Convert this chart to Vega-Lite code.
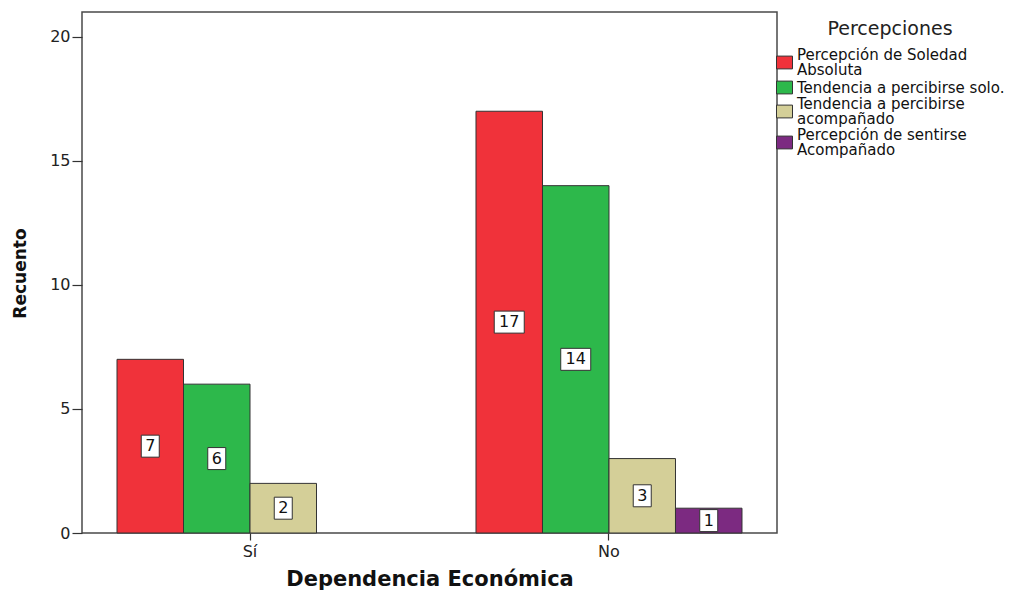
{
  "$schema": "https://vega.github.io/schema/vega-lite/v6.json",
  "autosize": {"type": "none"},
  "padding": {"left": 82, "top": 12, "right": 253, "bottom": 58},
  "width": 695,
  "height": 521,
  "background": "white",
  "data": {
    "values": [
      {"dep": "Sí", "per": "Percepción de Soledad Absoluta", "n": 7},
      {"dep": "Sí", "per": "Tendencia a percibirse solo.", "n": 6},
      {"dep": "Sí", "per": "Tendencia a percibirse acompañado", "n": 2},
      {"dep": "No", "per": "Percepción de Soledad Absoluta", "n": 17},
      {"dep": "No", "per": "Tendencia a percibirse solo.", "n": 14},
      {"dep": "No", "per": "Tendencia a percibirse acompañado", "n": 3},
      {"dep": "No", "per": "Percepción de sentirse Acompañado", "n": 1}
    ]
  },
  "transform": [{"calculate": "datum.n / 2", "as": "mid"}],
  "encoding": {
    "x": {
      "field": "dep",
      "type": "nominal",
      "sort": ["Sí", "No"],
      "title": "Dependencia Económica",
      "scale": {"paddingInner": 0.259, "paddingOuter": 0.0975},
      "axis": {
        "labelAngle": 0,
        "domain": false,
        "ticks": true,
        "tickSize": 7,
        "tickColor": "#333",
        "tickWidth": 1.2,
        "labelFont": "DejaVu Sans",
        "labelFontSize": 16,
        "labelColor": "#222",
        "labelPadding": 3,
        "titleFont": "DejaVu Sans",
        "titleFontSize": 21,
        "titleFontWeight": "bold",
        "titleColor": "#111",
        "titleBaseline": "alphabetic",
        "titleY": 52
      }
    },
    "xOffset": {
      "field": "per",
      "type": "nominal",
      "scale": {
        "domain": [
          "Percepción de Soledad Absoluta",
          "Tendencia a percibirse solo.",
          "Tendencia a percibirse acompañado",
          "Percepción de sentirse Acompañado"
        ],
        "paddingInner": 0,
        "paddingOuter": 0
      }
    }
  },
  "layer": [
    {
      "mark": {"type": "bar", "stroke": "#333", "strokeWidth": 1},
      "encoding": {
        "y": {
          "field": "n",
          "type": "quantitative",
          "title": "Recuento",
          "scale": {"domain": [0, 21], "nice": false},
          "axis": {
            "values": [0, 5, 10, 15, 20],
            "grid": false,
            "domain": false,
            "tickSize": 10,
            "tickColor": "#333",
            "tickWidth": 1.2,
            "labelFont": "DejaVu Sans",
            "labelFontSize": 16,
            "labelColor": "#222",
            "labelPadding": 2,
            "titleFont": "DejaVu Sans",
            "titleFontSize": 17,
            "titleFontWeight": "bold",
            "titleColor": "#111",
            "titleBaseline": "middle",
            "titleX": -62,
            "titleY": 261
          }
        },
        "color": {
          "field": "per",
          "type": "nominal",
          "title": "Percepciones",
          "scale": {
            "domain": [
              "Percepción de Soledad Absoluta",
              "Tendencia a percibirse solo.",
              "Tendencia a percibirse acompañado",
              "Percepción de sentirse Acompañado"
            ],
            "range": ["#F0323A", "#2DB84B", "#D4CF98", "#7C2A81"]
          },
          "legend": {
            "orient": "none",
            "legendX": 694,
            "legendY": 8,
            "titleFont": "DejaVu Sans",
            "titleFontSize": 19,
            "titleFontWeight": "normal",
            "titleColor": "#222",
            "titleAnchor": "middle",
            "titlePadding": 15,
            "labelFont": "DejaVu Sans",
            "labelFontSize": 15,
            "labelColor": "#111",
            "labelLimit": 300,
            "labelOffset": 4,
            "rowPadding": 1,
            "symbolType": "M-1,-0.8L1,-0.8L1,0.8L-1,0.8Z",
            "symbolSize": 256,
            "symbolStrokeColor": "#333",
            "symbolStrokeWidth": 1,
            "symbolOpacity": 1,
            "labelExpr": "datum.label == 'Percepción de Soledad Absoluta' ? ['Percepción de Soledad', 'Absoluta'] : datum.label == 'Tendencia a percibirse acompañado' ? ['Tendencia a percibirse', 'acompañado'] : datum.label == 'Percepción de sentirse Acompañado' ? ['Percepción de sentirse', 'Acompañado'] : datum.label",
            "encode": {
              "labels": {
                "update": {
                  "dy": {"signal": "datum.value == 'Tendencia a percibirse solo.' ? 0 : -7.5"}
                }
              }
            }
          }
        }
      }
    },
    {
      "mark": {"type": "point", "filled": true, "fill": "white", "stroke": "#333", "strokeWidth": 1, "opacity": 1, "size": 900},
      "encoding": {
        "y": {"field": "mid", "type": "quantitative"},
        "shape": {
          "condition": {"test": "datum.n >= 10", "value": "M-1,-0.7333L1,-0.7333L1,0.7333L-1,0.7333Z"},
          "value": "M-0.6,-0.7333L0.6,-0.7333L0.6,0.7333L-0.6,0.7333Z"
        }
      }
    },
    {
      "mark": {"type": "text", "font": "DejaVu Sans", "fontSize": 16, "color": "#111", "align": "center", "baseline": "middle"},
      "encoding": {
        "y": {"field": "mid", "type": "quantitative"},
        "text": {"field": "n", "type": "quantitative"}
      }
    }
  ],
  "config": {
    "view": {"stroke": "#4a4a4a", "strokeWidth": 1.5},
    "style": {"guide-label": {"lineHeight": 15}}
  }
}
